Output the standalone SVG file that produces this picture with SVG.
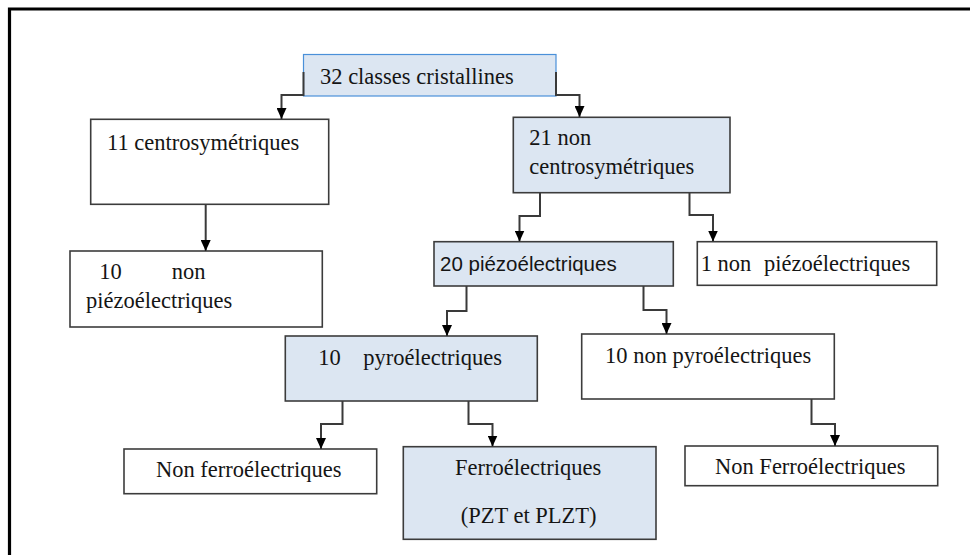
<svg xmlns="http://www.w3.org/2000/svg" width="970" height="555" viewBox="0 0 970 555">
<style>
.box{fill:#ffffff;stroke:#3c3c3c;stroke-width:1.6}
.blue{fill:#dce6f2;stroke:#3c3c3c;stroke-width:1.6}
.t{font-family:'Liberation Serif','DejaVu Serif',serif;font-size:22.5px;fill:#151515}
.s{font-family:'Liberation Sans',Arial,sans-serif;font-size:20.5px;fill:#151515}
.c{fill:none;stroke:#3a3a3a;stroke-width:2}
</style>
<defs>
<marker id="ah" markerUnits="userSpaceOnUse" markerWidth="11" markerHeight="10" refX="11" refY="5" orient="auto" viewBox="0 0 11 10">
<path d="M0,0 L11,5 L0,10 z" fill="#000"/>
</marker>
</defs>
<rect width="970" height="555" fill="#ffffff"/>
<path d="M9.5,560 V9 H975" fill="none" stroke="#000" stroke-width="3.2"/>

<g id="n32">
<rect x="303.5" y="54.5" width="252.5" height="41.5" fill="#dce6f2" stroke="#4a90d9" stroke-width="1.2"/>
<text class="t" x="320" y="84">32 classes cristallines</text>
</g>
<g id="n11">
<rect class="box" x="90.7" y="119.3" width="238" height="85"/>
<text class="t" x="107" y="150">11 centrosymétriques</text>
</g>
<g id="n21">
<rect class="blue" x="513.3" y="117.3" width="216.7" height="75.4"/>
<text class="t" x="529.3" y="145">21 non</text>
<text class="t" x="529.3" y="173.5">centrosymétriques</text>
</g>
<g id="n10np">
<rect class="box" x="70" y="251" width="252.3" height="76"/>
<text class="t"><tspan x="99.3" y="279.3">10</tspan><tspan x="171.7" y="279.3">non</tspan></text>
<text class="t" x="86" y="308.3">piézoélectriques</text>
</g>
<g id="n20">
<rect class="blue" x="434" y="241.7" width="239.3" height="44.3"/>
<text class="s" x="440" y="270.7">20 piézoélectriques</text>
</g>
<g id="n1">
<rect class="box" x="697.3" y="241.7" width="239.4" height="43.6"/>
<text class="t"><tspan x="700.7" y="270.7">1 non</tspan><tspan x="764" y="270.7">piézoélectriques</tspan></text>
</g>
<g id="npyro">
<rect class="blue" x="285.3" y="336" width="252" height="65"/>
<text class="t"><tspan x="318.3" y="365">10</tspan><tspan x="363.3" y="365">pyroélectriques</tspan></text>
</g>
<g id="nnpyro">
<rect class="box" x="581.7" y="334" width="252.6" height="65"/>
<text class="t" x="605" y="362.7">10 non pyroélectriques</text>
</g>
<g id="nnf">
<rect class="box" x="124" y="449" width="252.7" height="44.7"/>
<text class="t" x="156" y="476.7">Non ferroélectriques</text>
</g>
<g id="nf">
<rect class="blue" x="403.3" y="446.7" width="252.7" height="92.6"/>
<text class="t" x="455" y="475">Ferroélectriques</text>
<text class="t" x="460.7" y="523.3">(PZT et PLZT)</text>
</g>
<g id="nNF">
<rect class="box" x="685" y="446" width="252.7" height="39.7"/>
<text class="t" x="715" y="474">Non Ferroélectriques</text>
</g>

<g id="connectors">
<path class="c" d="M303.5,72 V95 H281.5 V119" marker-end="url(#ah)"/>
<path class="c" d="M556,72 V95 H579.5 V117" marker-end="url(#ah)"/>
<path class="c" d="M205.7,205 V251" marker-end="url(#ah)"/>
<path class="c" d="M540,193 V216 H519.5 V241.5" marker-end="url(#ah)"/>
<path class="c" d="M689.5,193 V215 H713 V241.5" marker-end="url(#ah)"/>
<path class="c" d="M466.5,286 V311 H447 V336" marker-end="url(#ah)"/>
<path class="c" d="M643.5,286 V310 H666.5 V334" marker-end="url(#ah)"/>
<path class="c" d="M342.5,401 V424 H321 V449" marker-end="url(#ah)"/>
<path class="c" d="M468.5,401 V424 H492.5 V446.5" marker-end="url(#ah)"/>
<path class="c" d="M811.5,399 V424 H835 V446" marker-end="url(#ah)"/>
</g>
</svg>
